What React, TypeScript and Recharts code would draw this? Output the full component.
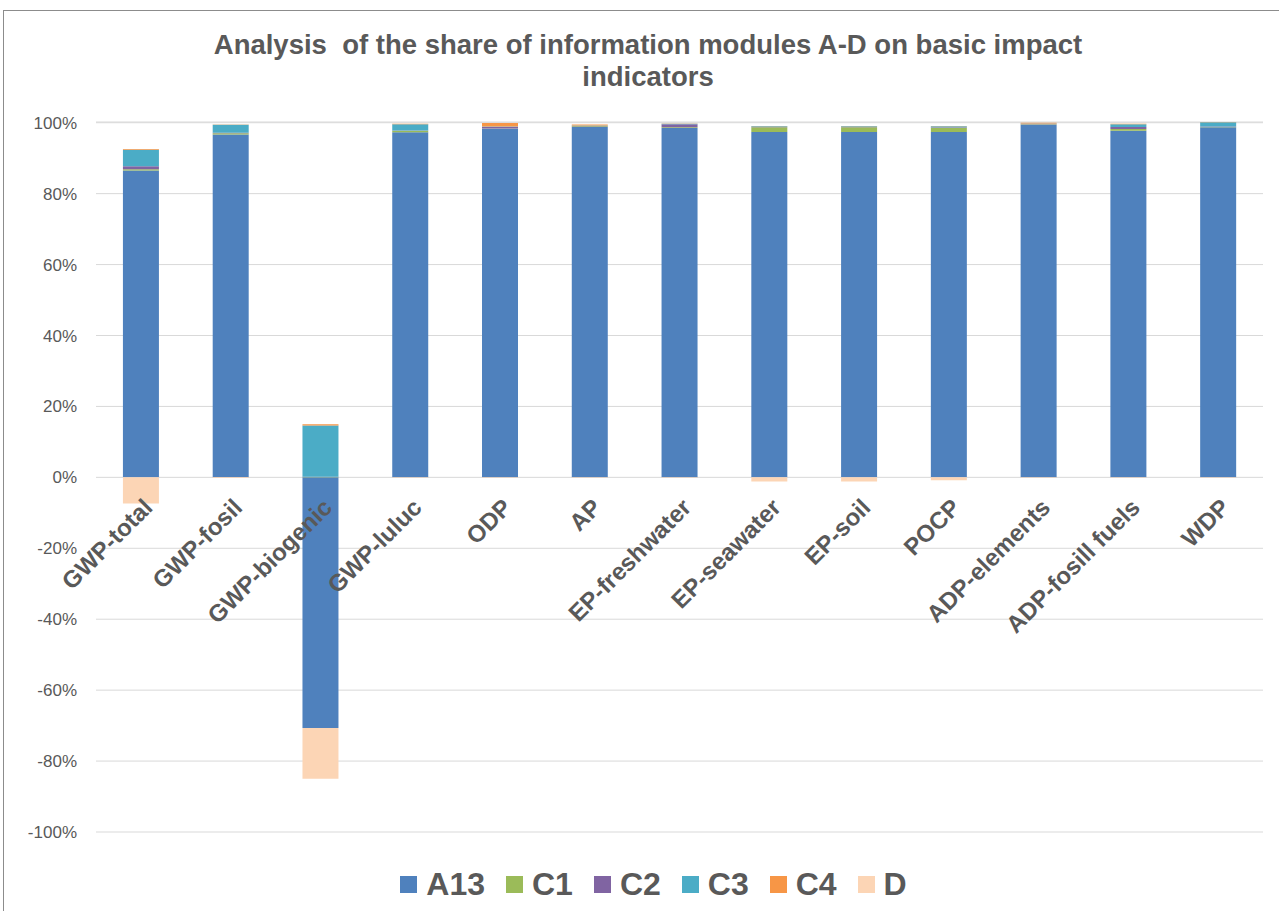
import React from "react";
import {
  BarChart,
  Bar,
  XAxis,
  YAxis,
  CartesianGrid,
  Legend
} from "recharts";

const categories = [
  "GWP-total",
  "GWP-fosil",
  "GWP-biogenic",
  "GWP-luluc",
  "ODP",
  "AP",
  "EP-freshwater",
  "EP-seawater",
  "EP-soil",
  "POCP",
  "ADP-elements",
  "ADP-fosill fuels",
  "WDP"
];

// shares per module (1 = 100%)
const a13 = [0.865, 0.967, -0.707, 0.973, 0.983, 0.988, 0.985, 0.974, 0.974, 0.974, 0.994, 0.977, 0.987];
const c1 = [0.004, 0.003, 0.001, 0.004, 0.001, 0.002, 0.002, 0.013, 0.013, 0.012, 0.002, 0.005, 0.001];
const c2 = [0.008, 0.002, 0.001, 0.001, 0.004, 0.001, 0.009, 0.001, 0.001, 0.001, 0.001, 0.006, 0.001];
const c3 = [0.047, 0.022, 0.144, 0.018, 0.001, 0.001, 0.001, 0.002, 0.002, 0.003, 0.001, 0.008, 0.012];
const c4 = [0.002, 0.001, 0.004, 0.001, 0.01, 0.003, 0.001, 0.001, 0.001, 0.001, 0.002, 0.001, 0.001];
const d = [-0.074, -0.002, -0.143, -0.001, -0.001, -0.001, -0.001, -0.012, -0.012, -0.008, -0.001, -0.001, -0.001];

const yTicks = [-1, -0.8, -0.6, -0.4, -0.2, 0, 0.2, 0.4, 0.6, 0.8, 1];

const series = [
  { key: "A13", color: "#4f81bd" },
  { key: "C1", color: "#9bbb59" },
  { key: "C2", color: "#8064a2" },
  { key: "C3", color: "#4bacc6" },
  { key: "C4", color: "#f79646" },
  { key: "D", color: "#fcd5b5" }
];

const data = categories.map((name, i) => ({
  name,
  A13: a13[i],
  C1: c1[i],
  C2: c2[i],
  C3: c3[i],
  C4: c4[i],
  D: d[i]
}));

const W = 1279;
const H = 911;
const TOP = 122;
const BOTTOM = 832;
const FONT = "'Liberation Sans', Arial, sans-serif";
const TEXT = "#595959";

// y domain is symmetric, so the zero line sits half a plot above the bottom
const HALF_PLOT = (BOTTOM - TOP) / 2;

function CategoryTick(props: any) {
  const { x, y, payload } = props;
  const ax = x + 13;
  const ay = y - HALF_PLOT + 32;
  return (
    <text
      x={ax}
      y={ay}
      textAnchor="end"
      transform={`rotate(-45, ${ax}, ${ay})`}
      fontFamily={FONT}
      fontSize={24}
      fontWeight="bold"
      fill={TEXT}
    >
      {payload.value}
    </text>
  );
}

function renderLegend(props: any) {
  const items = props.payload && props.payload.length ? props.payload : series.map(s => ({ value: s.key, color: s.color }));
  return (
    <div style={{ display: "flex", justifyContent: "center", alignItems: "center" }}>
      {items.map((it: any, i: number) => (
        <div
          key={it.value}
          style={{ display: "flex", alignItems: "center", marginRight: i < items.length - 1 ? 21 : 0 }}
        >
          <span style={{ width: 17, height: 17, background: it.color, display: "inline-block", marginRight: 9 }} />
          <span style={{ fontFamily: FONT, fontSize: 32, fontWeight: "bold", color: TEXT, lineHeight: "36px" }}>
            {it.value}
          </span>
        </div>
      ))}
    </div>
  );
}

export default function App() {
  return (
    <div style={{ position: "fixed", left: 0, top: 0, width: W, height: H, overflow: "hidden", background: "#fff" }}>
      <div
        style={{
          position: "absolute",
          left: 3,
          top: 10,
          width: W + 20,
          height: H + 20,
          borderTop: "1px solid #8c8c8c",
          borderLeft: "1px solid #8c8c8c"
        }}
      />
      <div
        style={{
          position: "absolute",
          left: 0,
          top: 29,
          width: 1296,
          textAlign: "center",
          fontFamily: FONT,
          fontSize: 27.5,
          fontWeight: "bold",
          color: TEXT,
          lineHeight: "32px"
        }}
      >
        Analysis&nbsp; of the share of information modules A-D on basic impact
        <br />
        indicators
      </div>
      <div style={{ position: "absolute", left: 0, top: 0 }}>
        <BarChart
          width={W}
          height={H}
          data={data}
          stackOffset="sign"
          barCategoryGap="30%"
          margin={{ top: TOP, right: 16, bottom: H - BOTTOM - 30, left: 0 }}
        >
          <CartesianGrid vertical={false} stroke="#d9d9d9" />
          <XAxis
            dataKey="name"
            height={30}
            interval={0}
            axisLine={false}
            tickLine={false}
            tickSize={0}
            tickMargin={0}
            tick={(p: any) => <CategoryTick {...p} />}
          />
          <YAxis
            width={96}
            domain={[-1, 1]}
            ticks={yTicks}
            axisLine={false}
            tickLine={false}
            tickSize={0}
            tickMargin={19}
            tickFormatter={(v: number) => `${Math.round(v * 100)}%`}
            tick={{ fontFamily: FONT, fontSize: 17, fill: TEXT }}
          />
          {series.map(s => (
            <Bar key={s.key} dataKey={s.key} stackId="a" fill={s.color} isAnimationActive={false} />
          ))}
          <Legend
            verticalAlign="middle"
            layout="horizontal"
            wrapperStyle={{ top: 866, left: 14, width: 1279 }}
            content={renderLegend}
          />
        </BarChart>
      </div>
    </div>
  );
}
